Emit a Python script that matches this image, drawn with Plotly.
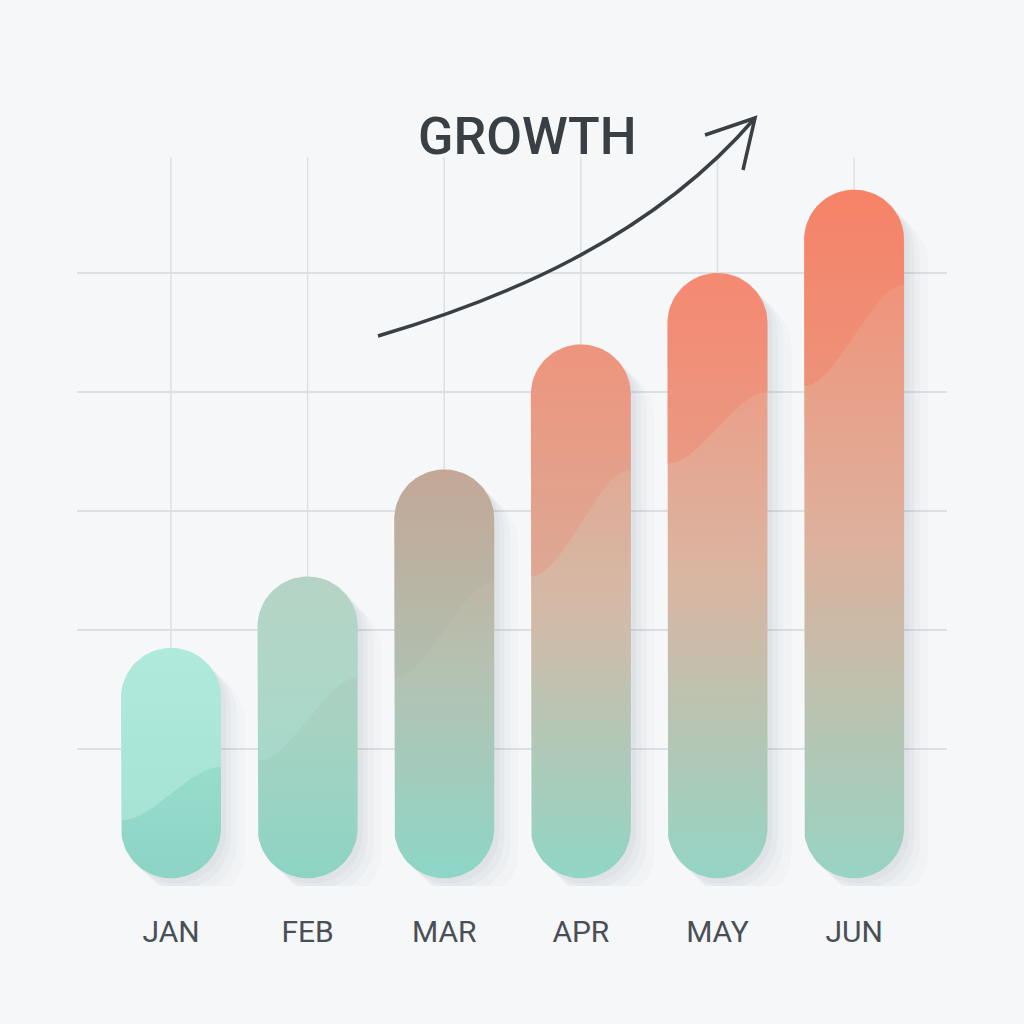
import numpy as np
import plotly.graph_objects as go

# ---------------- data ----------------
months = ["JAN", "FEB", "MAR", "APR", "MAY", "JUN"]
values = [37, 49, 67, 88, 100, 114]
wave_left = [8, 18, 32, 49, 68, 81]      # inner wave height at bar's left edge
wave_right = [17, 32, 48, 67, 80, 98]    # inner wave height at bar's right edge
grid_vals = [20, 40, 60, 80, 100]

# ---------------- style ----------------
BASE = -1.7
bottom_colors = ["#8dd4c4", "#8dd4c4", "#8ed6c7", "#90d6c6", "#94d5c5", "#98d4c4"]
mid_colors = ["#98dccc", "#a6d2c2", "#b4c2b2", "#d3baa7", "#dab5a1", "#deb09c"]
top_colors = ["#a3e3d4", "#b8cabd", "#caa896", "#ee9c85", "#f6917a", "#f7896e"]
tints = ["rgba(190,242,228,0.45)", "rgba(178,230,214,0.35)", "rgba(150,170,160,0.10)",
         "rgba(240,128,104,0.25)", "rgba(244,120,95,0.30)", "rgba(244,115,90,0.30)"]
XR = [-0.688, 5.68]
YR = [-3, 119.5]
L, R, T, B = 77, 77, 157, 138
W, H = 1024, 1024
pw, ph = W - L - R, H - T - B
ux = pw / (XR[1] - XR[0])   # px per x unit
uy = ph / (YR[1] - YR[0])   # px per y unit
HW = 50 / ux                # half bar width (x units)
RY = 50 / uy                # cap radius (y units)


def capsule(xc, y0, y1, dx=0.0, dy=0.0):
    th1 = np.linspace(0, np.pi, 40)
    th2 = np.linspace(np.pi, 2 * np.pi, 40)
    xs = np.concatenate([xc + HW * np.cos(th1), xc + HW * np.cos(th2)]) + dx
    ys = np.concatenate([y1 - RY + RY * np.sin(th1), y0 + RY + RY * np.sin(th2)]) + dy
    return np.append(xs, xs[0]), np.append(ys, ys[0])


def upper_region(xc, y1, wl, wr):
    t = np.linspace(0, 1, 50)
    s = 3 * t ** 2 - 2 * t ** 3
    wx = xc - HW + 2 * HW * t
    wy = wl + (wr - wl) * s
    th = np.linspace(0, np.pi, 40)
    ax = xc + HW * np.cos(th)
    ay = y1 - RY + RY * np.sin(th)
    xs = np.concatenate([wx, ax, [wx[0]]])
    ys = np.concatenate([wy, ay, [wy[0]]])
    return xs, ys


fig = go.Figure()

# shadows (soft, toward lower right)
for i, v in enumerate(values):
    for off, a in [(5, 0.035), (10, 0.03), (16, 0.025), (24, 0.02)]:
        xs, ys = capsule(i, BASE, v, dx=off / ux, dy=-off / uy)
        fig.add_trace(go.Scatter(x=xs, y=ys, mode="lines", line=dict(width=0),
                                 fill="toself", fillcolor=f"rgba(60,70,85,{a})",
                                 hoverinfo="skip", showlegend=False))

# bars
for i, v in enumerate(values):
    xs, ys = capsule(i, BASE, v)
    fig.add_trace(go.Scatter(
        x=xs, y=ys, mode="lines", line=dict(width=0), fill="toself",
        fillgradient=dict(type="vertical", start=BASE, stop=v,
                          colorscale=[[0, bottom_colors[i]], [0.5, mid_colors[i]],
                                      [1, top_colors[i]]]),
        name=months[i], hoverinfo="skip", showlegend=False))
    ux_, uy_ = upper_region(i, v, wave_left[i], wave_right[i])
    fig.add_trace(go.Scatter(x=ux_, y=uy_, mode="lines", line=dict(width=0),
                             fill="toself", fillcolor=tints[i],
                             hoverinfo="skip", showlegend=False))

# vertical grid lines
shapes = []
for i in range(len(months)):
    shapes.append(dict(type="line", xref="x", yref="y", x0=i, x1=i, y0=0, y1=YR[1],
                       line=dict(color="#dde0e3", width=1.5), layer="below"))


def P(x, y):
    return (x - L) / pw, (H - B - y) / ph


p0, c1, c2, p3 = P(378, 336), P(500, 300), P(650, 240), P(755, 118)
shapes.append(dict(type="path", xref="paper", yref="paper",
                   path=f"M {p0[0]},{p0[1]} C {c1[0]},{c1[1]} {c2[0]},{c2[1]} {p3[0]},{p3[1]}",
                   line=dict(color="#3a3f44", width=3.5)))
a1, a2, a3 = P(705, 135), P(755, 118), P(743, 170)
shapes.append(dict(type="path", xref="paper", yref="paper",
                   path=f"M {a1[0]},{a1[1]} L {a2[0]},{a2[1]} L {a3[0]},{a3[1]}",
                   line=dict(color="#3a3f44", width=3.5)))

gx, gy = P(527, 137)
fig.add_annotation(text="GROWTH", xref="paper", yref="paper", x=gx, y=gy,
                   showarrow=False, xanchor="center", yanchor="middle",
                   font=dict(family="Roboto", size=52, color="#3a3f44", weight=500))

fig.update_layout(
    width=W, height=H, autosize=False,
    margin=dict(l=L, r=R, t=T, b=B),
    paper_bgcolor="#f5f7f8", plot_bgcolor="#f5f7f8",
    shapes=shapes,
    xaxis=dict(range=XR, tickvals=list(range(len(months))), ticktext=months,
               showgrid=False, zeroline=False, showline=False, ticks="",
               ticklabelstandoff=25,
               tickfont=dict(family="Roboto", size=30, color="#4a4f55")),
    yaxis=dict(range=YR, tickvals=grid_vals, showticklabels=False,
               showgrid=True, gridcolor="#dde0e3", gridwidth=1.5,
               zeroline=False, showline=False),
)

fig.write_html("out.html", config={"displayModeBar": False},
               post_script="document.body.style.margin='0';")
